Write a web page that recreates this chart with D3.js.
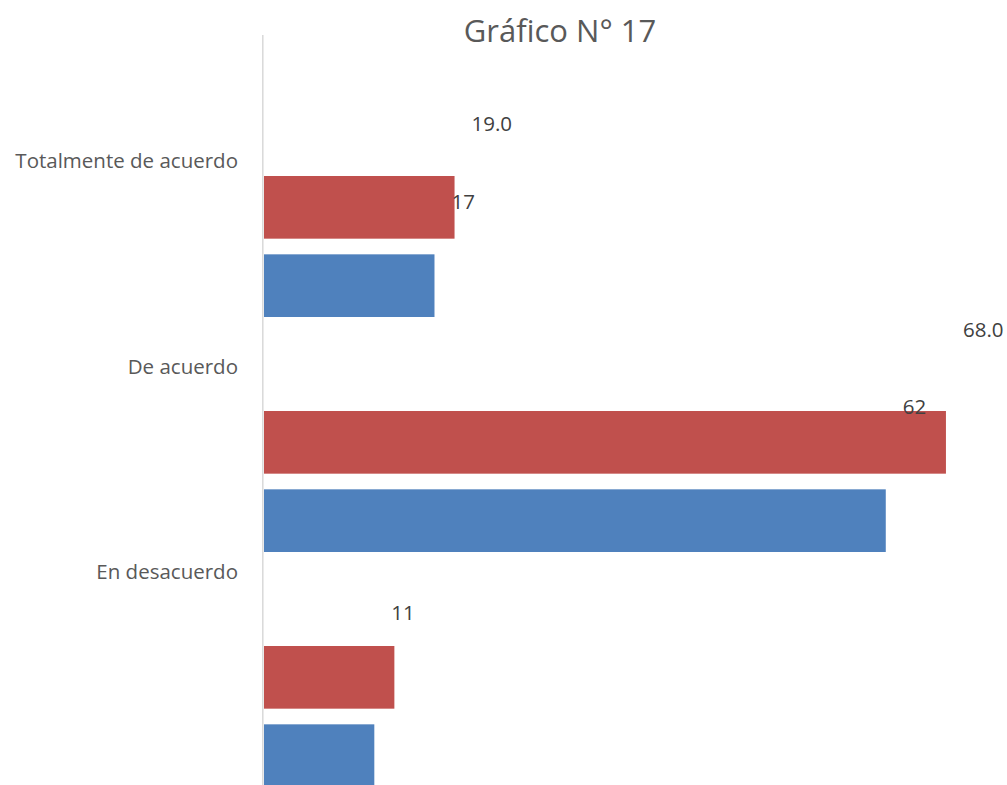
<!DOCTYPE html>
<html>
<head>
<meta charset="utf-8">
<script src="https://cdn.jsdelivr.net/npm/d3@7"></script>
<style>
  body { margin: 0; background: #ffffff; }
  svg { display: block; }
</style>
</head>
<body>
<svg id="chart"></svg>
<script>
// Chart data
const categories = ["Totalmente de acuerdo", "De acuerdo", "En desacuerdo"];
const seriesNames = ["Serie 1", "Serie 2"];
const serie1Values = [19.0, 68.0, 13.0]; // red bars
const serie2Values = [17, 62, 11];       // blue bars
const seriesColors = ["#C0504D", "#4F81BD"];
const title = "Gráfico N° 17";

const width = 1007;
const height = 785;

const svg = d3.select("#chart").attr("width", width).attr("height", height);

// Value scale (horizontal bars)
const x = d3.scaleLinear().domain([0, 70]).range([264, 966]);

// Category bands for the bars
const yBand = d3
  .scaleBand()
  .domain(categories)
  .range([129, 834])
  .paddingInner(0.4)
  .paddingOuter(0.2);

// Red above blue inside each band
const ySeries = d3
  .scaleBand()
  .domain(seriesNames)
  .range([0, yBand.bandwidth()])
  .paddingInner(0.2);

// Category labels sit on their own, tighter spacing
const yLabel = d3.scalePoint().domain(categories).range([160, 571]);

const rows = categories.map((c, i) => ({
  category: c,
  values: [
    { series: seriesNames[0], value: serie1Values[i], text: serie1Values[i].toFixed(1), dy: -37 },
    { series: seriesNames[1], value: serie2Values[i], text: String(serie2Values[i]), dy: 40.5 },
  ],
}));

function addLabels(seriesIndex) {
  rows.forEach((row) => {
    const v = row.values[seriesIndex];
    svg
      .append("text")
      .attr("x", x(v.value) + 17)
      .attr("y", yLabel(row.category) + v.dy)
      .attr("dominant-baseline", "central")
      .style("font-family", "'Open Sans', sans-serif")
      .style("font-size", "20.5px")
      .attr("fill", "#404040")
      .text(v.text);
  });
}

// Title
svg
  .append("text")
  .attr("x", 560)
  .attr("y", 42)
  .attr("text-anchor", "middle")
  .style("font-family", "'Open Sans', sans-serif")
  .style("font-size", "31px")
  .attr("fill", "#595959")
  .text(title);

// Red labels sit under the bars (the last one is covered)
addLabels(0);

// Bars
const groups = svg
  .selectAll(".group")
  .data(rows)
  .enter()
  .append("g")
  .attr("class", "group")
  .attr("transform", (d) => `translate(0,${yBand(d.category)})`);

groups
  .selectAll("rect")
  .data((d) => d.values)
  .enter()
  .append("rect")
  .attr("x", x(0))
  .attr("y", (d) => ySeries(d.series))
  .attr("width", (d) => x(d.value) - x(0))
  .attr("height", ySeries.bandwidth())
  .attr("fill", (d, i) => seriesColors[i]);

// Blue labels on top
addLabels(1);

// Vertical category axis line
svg
  .append("line")
  .attr("x1", 262.8)
  .attr("x2", 262.8)
  .attr("y1", 35)
  .attr("y2", height)
  .attr("stroke", "#d9d9d9")
  .attr("stroke-width", 1.5);

// Category labels
svg
  .selectAll(".cat-label")
  .data(categories)
  .enter()
  .append("text")
  .attr("class", "cat-label")
  .attr("x", 238)
  .attr("y", (d) => yLabel(d))
  .attr("text-anchor", "end")
  .attr("dominant-baseline", "central")
  .style("font-family", "'Open Sans', sans-serif")
  .style("font-size", "20.5px")
  .attr("fill", "#595959")
  .text((d) => d);
</script>
</body>
</html>
